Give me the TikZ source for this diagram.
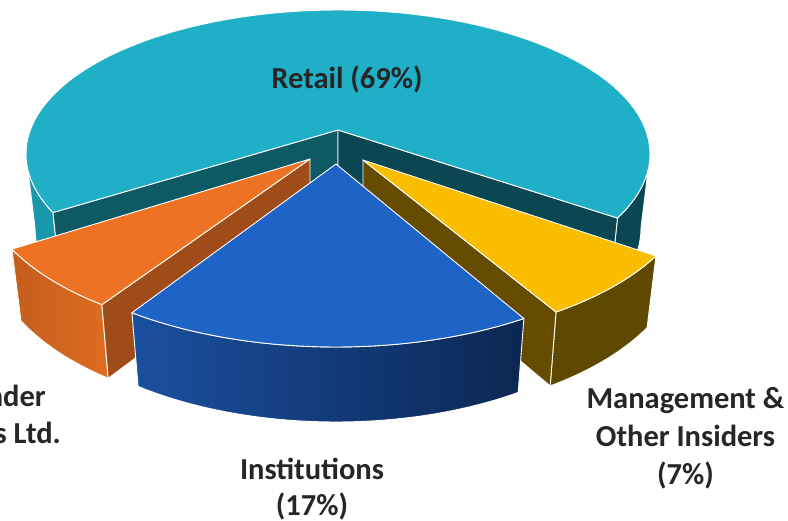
\documentclass[tikz,border=0pt]{standalone}
\usepackage{fontspec}
\setmainfont{Carlito}

\definecolor{retailtop}{HTML}{1FAFC7}
\definecolor{retailcutl}{HTML}{0E5A64}
\definecolor{retailcutr}{HTML}{0B4752}
\definecolor{retailrim}{HTML}{1A98AB}
\definecolor{foundtop}{HTML}{EE7223}
\definecolor{foundcut}{HTML}{A04C18}
\definecolor{foundrimA}{HTML}{C45E1C}
\definecolor{foundrimB}{HTML}{DF6C21}
\definecolor{insttop}{HTML}{1E63C6}
\definecolor{instrimA}{HTML}{1A50A1}
\definecolor{instrimB}{HTML}{0B2752}
\definecolor{mgmttop}{HTML}{FABD00}
\definecolor{mgmtcut}{HTML}{654C00}
\definecolor{mgmtrim}{HTML}{5F4800}
\definecolor{labeltext}{HTML}{262626}

\begin{document}
\begin{tikzpicture}[x=1bp,y=-1bp]

  \useasboundingbox (0,0) rectangle (788,521);
  \clip (0,0) rectangle (788,521);

  % corners of the slices (top and bottom)
  \coordinate (ar)  at (338,130);
  \coordinate (arb) at (338,200);
  \coordinate (lr)  at ({338+312*cos(156)},{154+144*sin(156)});
  \coordinate (lrb) at ({338+303*cos(156)},{228+150*sin(156)});
  \coordinate (rr)  at ({338+312*cos(26.4)},{154+144*sin(26.4)});
  \coordinate (rrb) at ({338+303*cos(26.4)},{228+150*sin(26.4)});

  \coordinate (ao)  at (310,159);
  \coordinate (aob) at (310,228);
  \coordinate (of)  at ({310+330*cos(129.1)},{180.5+160*sin(129.1)});
  \coordinate (ofb) at ({310+320*cos(129.1)},{249.5+166*sin(129.1)});

  \coordinate (ay)  at (363,160);
  \coordinate (ayb) at (363,229);
  \coordinate (yf)  at ({363+330*cos(54.2)},{182.3+160*sin(54.2)});
  \coordinate (yfb) at ({363+320*cos(54.2)},{251.3+166*sin(54.2)});

  \coordinate (ab)  at (336,164);

  \begin{scope}[every path/.style={draw=white, line width=0.9bp, line join=round}]

    % Retail
    \path[fill=retailrim] plot[domain=156:180, samples=20] ({338+312*cos(\x)},{154+144*sin(\x)})
      -- plot[domain=180:156, samples=20] ({338+303*cos(\x)},{228+150*sin(\x)}) -- cycle;
    \path[fill=retailcutr] plot[domain=360:386.4, samples=20] ({338+312*cos(\x)},{154+144*sin(\x)})
      -- plot[domain=386.4:360, samples=20] ({338+303*cos(\x)},{228+150*sin(\x)}) -- cycle;
    \path[fill=retailcutl] (ar) -- (lr) -- (lrb) -- (arb) -- cycle;
    \path[fill=retailcutr] (ar) -- (rr) -- (rrb) -- (arb) -- cycle;
    \path[fill=retailtop] (ar) -- plot[domain=156:386.4, samples=120] ({338+312*cos(\x)},{154+144*sin(\x)}) -- cycle;

    % Founder slice
    \path[left color=foundrimA, right color=foundrimB] plot[domain=154.6:129.1, samples=20] ({310+330*cos(\x)},{180.5+160*sin(\x)})
      -- plot[domain=129.1:154.6, samples=20] ({310+320*cos(\x)},{249.5+166*sin(\x)}) -- cycle;
    \path[fill=foundcut] (ao) -- (of) -- (ofb) -- (aob) -- cycle;
    \path[fill=foundtop] (ao) -- plot[domain=154.6:129.1, samples=20] ({310+330*cos(\x)},{180.5+160*sin(\x)}) -- cycle;

    % Management slice
    \path[fill=mgmtrim] plot[domain=54.2:27.4, samples=20] ({363+330*cos(\x)},{182.3+160*sin(\x)})
      -- plot[domain=27.4:54.2, samples=20] ({363+320*cos(\x)},{251.3+166*sin(\x)}) -- cycle;
    \path[fill=mgmtcut] (ay) -- (yf) -- (yfb) -- (ayb) -- cycle;
    \path[fill=mgmttop] (ay) -- plot[domain=54.2:27.4, samples=20] ({363+330*cos(\x)},{182.3+160*sin(\x)}) -- cycle;

    % Institutions slice
    \path[left color=instrimA, right color=instrimB] plot[domain=128.2:55.3, samples=40] ({336+330*cos(\x)},{187+160*sin(\x)})
      -- plot[domain=55.3:128.2, samples=40] ({336+320*cos(\x)},{256+166*sin(\x)}) -- cycle;
    \path[fill=insttop] (ab) -- plot[domain=128.2:55.3, samples=40] ({336+330*cos(\x)},{187+160*sin(\x)}) -- cycle;

  \end{scope}

  % labels (base = baseline of the last line)
  \begin{scope}[every node/.style={text=labeltext, font=\bfseries\fontsize{30.5bp}{36bp}\selectfont, inner sep=0pt, align=center, anchor=base}]
    \node (retail) at (347,89)  {Retail (69\%)};
    \node (inst)   at (312,515) {Institutions\\(17\%)};
    \node[font=\bfseries\fontsize{30.5bp}{38bp}\selectfont] (mgmt) at (685.5,484) {Management \&\\Other Insiders\\(7\%)};
    \node[anchor=base east] (found1) at (46,406) {nder};
    \node[anchor=base east] (found2) at (61,443) {s Ltd.};
  \end{scope}

\end{tikzpicture}
\end{document}
